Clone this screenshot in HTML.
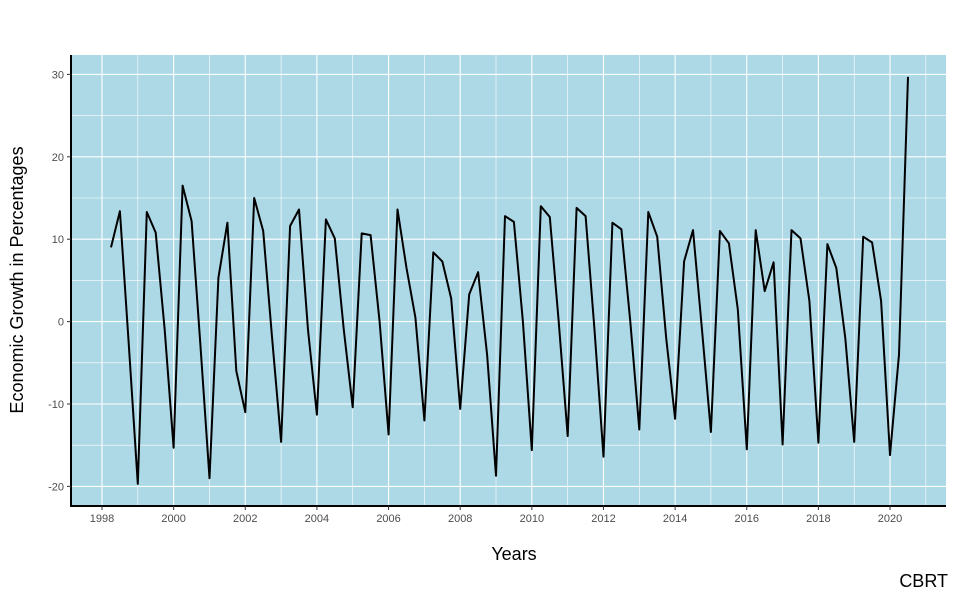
<!DOCTYPE html>
<html><head><meta charset="utf-8"><style>
body{margin:0;background:#fff;font-family:"Liberation Sans",sans-serif}
</style></head><body>
<svg id="chart" width="956" height="599" xmlns="http://www.w3.org/2000/svg">
<rect x="71" y="55" width="875" height="451" fill="#add8e6"/>
<g id="grid"></g>
<path id="line" fill="none" stroke="#000" stroke-width="2" stroke-linejoin="round"/>
<line x1="71" y1="55" x2="71" y2="507" stroke="#000" stroke-width="2"/>
<line x1="70" y1="506" x2="946" y2="506" stroke="#000" stroke-width="2"/>
<g id="ticks" font-size="11" fill="#4d4d4d"></g>
<text x="514" y="560" font-size="18" text-anchor="middle" fill="#000">Years</text>
<text transform="translate(23,280) rotate(-90)" font-size="18" text-anchor="middle" fill="#000">Economic Growth in Percentages</text>
<text x="948" y="587" font-size="18" text-anchor="end" fill="#000">CBRT</text>
</svg>
<script>
const startYear = 1998.25;
const growth = [9,13.4,-3,-19.7, 13.3,10.8,-1,-15.3, 16.5,12.2,-3,-19, 5.3,12,-6,-11,
 15,11,-2,-14.6, 11.6,13.6,-1,-11.3, 12.4,10.1,-1,-10.4, 10.7,10.5,0,-13.7,
 13.6,6.5,0.5,-12, 8.4,7.3,2.8,-10.6, 3.3,6,-4,-18.7, 12.8,12.1,0,-15.6,
 14,12.7,0,-13.9, 13.8,12.8,-1,-16.4, 12,11.2,0,-13.1, 13.3,10.3,-2,-11.8,
 7.3,11.1,-1,-13.4, 11,9.5,1.5,-15.5, 11.1,3.7,7.2,-14.9, 11.1,10.1,2.5,-14.7,
 9.4,6.5,-2,-14.6, 10.3,9.6,2.5,-16.2, -4,29.7];
const xTicks = [1998,2000,2002,2004,2006,2008,2010,2012,2014,2016,2018,2020];
const yTicks = [-20,-10,0,10,20,30];
const NS='http://www.w3.org/2000/svg';
const xs = t => 102 + (t-1998)*35.82;
const ys = v => 321.6 - v*8.24;
const grid=document.getElementById('grid'), ticks=document.getElementById('ticks');
function ln(p,x1,y1,x2,y2,w,c){const l=document.createElementNS(NS,'line');l.setAttribute('x1',x1);l.setAttribute('y1',y1);l.setAttribute('x2',x2);l.setAttribute('y2',y2);l.setAttribute('stroke',c);l.setAttribute('stroke-width',w);p.appendChild(l);return l;}
for(let y=1997;y<=2021;y++){const l=ln(grid,xs(y),55,xs(y),506,y%2?0.6:1.1,'#fff');

}
for(let v=-20;v<=30;v+=5){const l=ln(grid,71,ys(v),946,ys(v),v%10?0.6:1.1,'#fff');

}
xTicks.forEach(t=>{const l=ln(ticks,xs(t),506,xs(t),510,1,'#333');


const tx=document.createElementNS(NS,'text');tx.setAttribute('x',xs(t));tx.setAttribute('y',522);tx.setAttribute('text-anchor','middle');tx.textContent=t;


ticks.appendChild(tx);});
yTicks.forEach(v=>{const l=ln(ticks,67,ys(v),71,ys(v),1,'#333');


const tx=document.createElementNS(NS,'text');tx.setAttribute('x',64);tx.setAttribute('y',ys(v)+4);tx.setAttribute('text-anchor','end');tx.textContent=v;


ticks.appendChild(tx);});
document.getElementById('line').setAttribute('d',growth.map((v,i)=>(i?'L':'M')+xs(startYear+i*0.25).toFixed(1)+','+ys(v).toFixed(1)).join(''));
</script>
</body></html>
